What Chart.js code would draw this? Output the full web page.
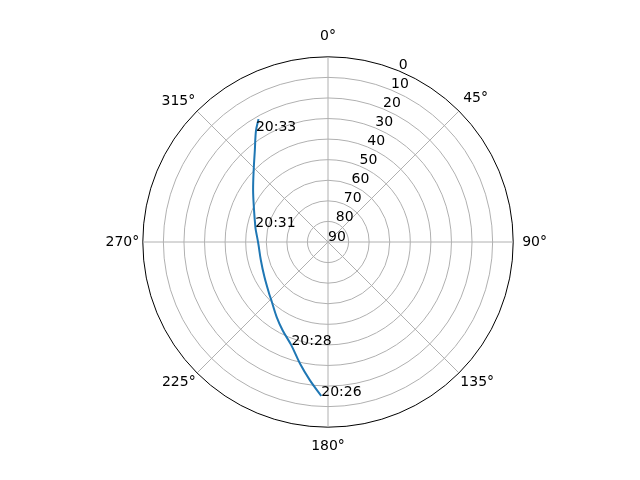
<!DOCTYPE html>
<html>
<head>
<meta charset="utf-8">
<script src="https://cdn.jsdelivr.net/npm/chart.js@4.4.0/dist/chart.umd.min.js"></script>
<style>
html,body{margin:0;padding:0;background:#ffffff;}
#wrap{width:640px;height:480px;position:relative;}
</style>
</head>
<body>
<div id="wrap"><canvas id="c" width="640" height="480"></canvas></div>
<script>
// ---- data (satellite pass, azimuth in degrees, elevation in degrees) ----
const azimuth   = [182.6, 187.4, 193.0, 199.4, 207.3, 214.5, 225.0, 229.3, 241.4, 255.0, 268.9, 279.4, 281.9, 293.4, 304.8, 315.0, 321.6, 327.1, 330.5];
const elevation = [15.1, 22.3, 29.4, 36.7, 41.8, 45.9, 50.8, 52.1, 54.8, 56.2, 56.1, 54.4, 53.9, 50.8, 45.7, 39.0, 32.9, 25.7, 21.4];
const timeTags  = ['20:26', '', '', '20:28', '', '', '', '', '', '', '', '', '20:31', '', '', '', '', '20:33', ''];
const angleTickLabels = ['0°', '45°', '90°', '135°', '180°', '225°', '270°', '315°'];
const elevationTicks  = [0, 10, 20, 30, 40, 50, 60, 70, 80, 90];

// ---- angular slots for the radial scale (quarter-degree resolution) ----
const PER_DEG = 4;
const SLOTS = 360 * PER_DEG;
const slotLabels = Array.from({length: SLOTS}, (_, i) => i / PER_DEG);
const slotValues = new Array(SLOTS).fill(null);
const slotOf = a => Math.round(a * PER_DEG) % SLOTS;
azimuth.forEach((a, k) => { slotValues[slotOf(a)] = elevation[k]; });

const LABEL_STEP = 45 * PER_DEG;
const labelPad = [12, 6, 9, 2, 10.5, 2, 3.6, 2.5];

Chart.defaults.font.family = "'DejaVu Sans', sans-serif";
Chart.defaults.font.size = 14;
Chart.defaults.color = '#000000';

const openPath = {
  id: 'openPath',
  afterDatasetsUpdate(chart) {
    const line = chart.getDatasetMeta(0).dataset;
    line._loop = false;
    line._fullLoop = false;
    line._segments = undefined;
    line._path = undefined;
    line._pointsUpdated = false;
  },
  beforeDatasetsDraw(chart) {
    const line = chart.getDatasetMeta(0).dataset;
    if (line.updateControlPoints) line.updateControlPoints(chart.chartArea, 'r');
  }
};

const extraText = {
  id: 'extraText',
  afterDatasetsDraw(chart) {
    const ctx = chart.ctx;
    const r = chart.scales.r;
    ctx.save();
    ctx.fillStyle = '#000000';
    ctx.font = "14px 'DejaVu Sans', sans-serif";
    ctx.textAlign = 'left';
    ctx.textBaseline = 'alphabetic';
    // radial tick labels along 22.5°
    const tickSlot = Math.round(22.5 * PER_DEG);
    elevationTicks.forEach(v => {
      const p = r.getPointPosition(tickSlot, r.getDistanceFromCenterForValue(v));
      ctx.fillText(String(v), p.x, p.y - 1.5);
    });
    // time annotations
    const meta = chart.getDatasetMeta(0);
    timeTags.forEach((t, k) => {
      if (!t) return;
      const pt = meta.data[slotOf(azimuth[k])];
      ctx.fillText(t, pt.x, pt.y);
    });
    ctx.restore();
  }
};

new Chart(document.getElementById('c'), {
  type: 'radar',
  data: {
    labels: slotLabels,
    datasets: [{
      data: slotValues,
      borderColor: '#1f77b4',
      borderWidth: 2,
      pointRadius: 0,
      pointHoverRadius: 0,
      fill: false,
      spanGaps: true,
      tension: 0.35
    }]
  },
  options: {
    responsive: false,
    animation: false,
    events: [],
    layout: { padding: { left: 16, right: 0, top: 28, bottom: 24 } },
    plugins: { legend: { display: false }, tooltip: { enabled: false } },
    scales: {
      r: {
        min: 0,
        max: 90,
        reverse: true,
        startAngle: 0,
        ticks: { display: false, stepSize: 10 },
        grid: {
          circular: true,
          color: ctx => (ctx.tick && ctx.tick.value === 0) ? '#000000' : '#b0b0b0',
          lineWidth: 1
        },
        angleLines: {
          display: true,
          color: '#b0b0b0',
          lineWidth: ctx => (ctx.index % LABEL_STEP === 0) ? 1 : 0
        },
        pointLabels: {
          display: true,
          color: '#000000',
          font: { size: 14, family: "'DejaVu Sans', sans-serif" },
          padding: ctx => (ctx.index % LABEL_STEP === 0) ? labelPad[ctx.index / LABEL_STEP] : 0,
          callback: (label, index) => (index % LABEL_STEP === 0) ? angleTickLabels[index / LABEL_STEP] : ''
        }
      }
    }
  },
  plugins: [openPath, extraText]
});
</script>
</body>
</html>
